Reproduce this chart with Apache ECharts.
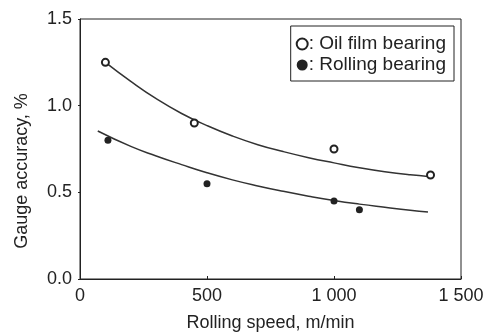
<!DOCTYPE html>
<html>
<head>
<meta charset="utf-8">
<script src="https://cdn.jsdelivr.net/npm/echarts@6/dist/echarts.min.js"></script>
<style>
  html, body { margin: 0; padding: 0; background: #fff; }
  #chart { width: 486px; height: 333px; }
</style>
</head>
<body>
<div id="chart"></div>
<script>
// measured points
var oilX = [100, 450, 1000, 1380];
var oilY = [1.25, 0.90, 0.75, 0.60];
var rollX = [110, 500, 1000, 1100];
var rollY = [0.80, 0.55, 0.45, 0.40];

// fitted curves
var oilFitX = [100, 200, 300, 400, 500, 600, 700, 800, 900, 1000, 1100, 1200, 1300, 1370];
var oilFitY = [1.25, 1.14, 1.04, 0.955, 0.885, 0.825, 0.775, 0.735, 0.70, 0.67, 0.642, 0.619, 0.601, 0.592];
var rollFitX = [70, 200, 300, 400, 500, 600, 700, 800, 900, 1000, 1100, 1200, 1300, 1370];
var rollFitY = [0.854, 0.765, 0.71, 0.66, 0.613, 0.572, 0.537, 0.506, 0.478, 0.453, 0.432, 0.414, 0.397, 0.387];

var xTicks = [0, 500, 1000, 1500];
var yTicks = [0, 0.5, 1.0, 1.5];

function pairs(xs, ys) {
  return xs.map(function (x, i) { return [x, ys[i]]; });
}

var ink = "#222";
var font = "Liberation Sans";

var myChart = echarts.init(document.getElementById("chart"));
myChart.setOption({
  animation: false,
  textStyle: { fontFamily: font },
  grid: {
    left: 80, right: 25, top: 19, bottom: 54,
    outerBoundsMode: "none",
    containLabel: false,
    show: true, borderColor: ink, borderWidth: 1
  },
  legend: {
    orient: "vertical",
    right: 32,
    top: 26,
    padding: [8, 8, 6, 5],
    itemWidth: 11,
    itemHeight: 11,
    itemGap: 1,
    borderColor: ink,
    borderWidth: 1,
    data: [
      { name: "Oil film bearing", icon: "emptyCircle" },
      { name: "Rolling bearing", icon: "circle" }
    ],
    formatter: function (name) { return ": " + name; },
    textStyle: { fontSize: 19, color: ink, lineHeight: 20, fontFamily: font, padding: [0, 0, 0, -4] }
  },
  xAxis: {
    type: "value",
    min: xTicks[0], max: xTicks[xTicks.length - 1], interval: 500,
    name: "Rolling speed, m/min",
    nameLocation: "middle",
    nameGap: 35,
    nameTextStyle: { fontSize: 18, color: ink, fontFamily: font },
    axisLine: { lineStyle: { color: ink, width: 1 } },
    axisTick: { inside: true, length: 3, lineStyle: { color: ink } },
    splitLine: { show: false },
    axisLabel: {
      fontSize: 18, color: ink, margin: 8,
      formatter: function (v) {
        return v >= 1000 ? Math.floor(v / 1000) + " " + String(v % 1000).padStart(3, "0") : String(v);
      }
    }
  },
  yAxis: {
    type: "value",
    min: yTicks[0], max: yTicks[yTicks.length - 1], interval: 0.5,
    name: "Gauge accuracy, %",
    nameLocation: "middle",
    nameGap: 49,
    nameTextStyle: { fontSize: 18, color: ink, fontFamily: font, padding: [0, 44, 0, 0] },
    axisLine: { show: true, lineStyle: { color: ink, width: 1 } },
    axisTick: { show: true, length: 2, lineStyle: { color: ink } },
    splitLine: { show: false },
    axisLabel: {
      fontSize: 18, color: ink, margin: 8,
      formatter: function (v) { return v.toFixed(1); }
    }
  },
  series: [
    {
      name: "Oil film fit",
      type: "line",
      smooth: 0.5,
      symbol: "none",
      lineStyle: { color: "#333", width: 1.5 },
      data: pairs(oilFitX, oilFitY),
      silent: true
    },
    {
      name: "Rolling fit",
      type: "line",
      smooth: 0.5,
      symbol: "none",
      lineStyle: { color: "#333", width: 1.5 },
      data: pairs(rollFitX, rollFitY),
      silent: true
    },
    {
      name: "Oil film bearing",
      type: "scatter",
      symbol: "emptyCircle",
      symbolSize: 7,
      itemStyle: { color: ink, borderColor: ink, borderWidth: 1.3, opacity: 1 },
      data: pairs(oilX, oilY),
      z: 5
    },
    {
      name: "Rolling bearing",
      type: "scatter",
      symbol: "circle",
      symbolSize: 7,
      itemStyle: { color: ink, opacity: 1 },
      data: pairs(rollX, rollY),
      z: 5
    }
  ]
});
</script>
</body>
</html>
